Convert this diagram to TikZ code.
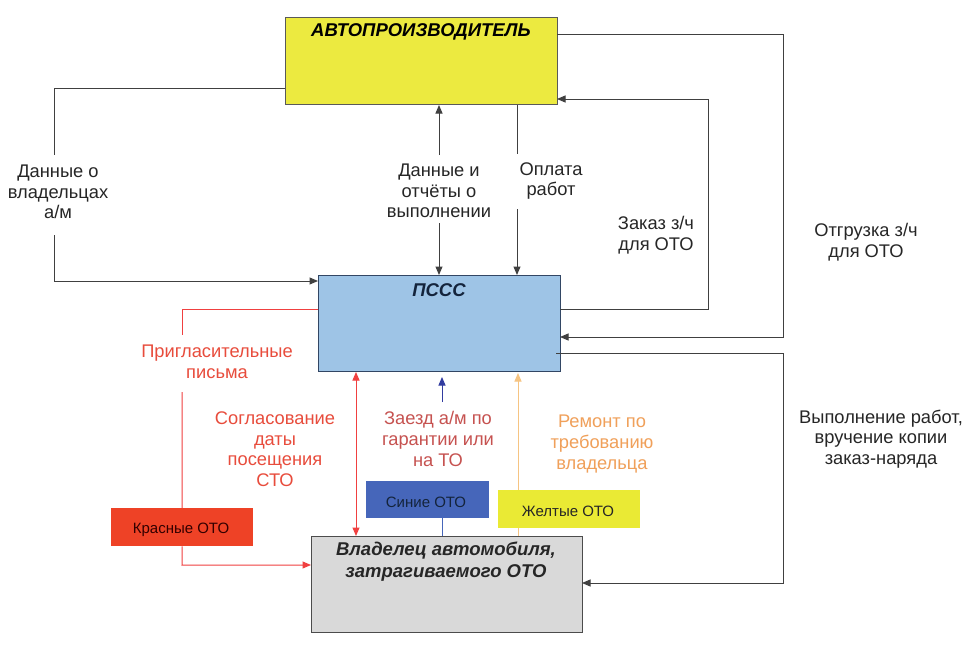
\documentclass[tikz,border=0pt]{standalone}
\usepackage{fontspec}
\setmainfont{Liberation Sans}
\usetikzlibrary{arrows.meta}
\definecolor{ylw}{RGB}{236,234,64}
\definecolor{blu}{RGB}{158,196,230}
\definecolor{gry}{RGB}{217,217,217}
\definecolor{redbox}{RGB}{238,66,38}
\definecolor{bluebox}{RGB}{70,102,186}
\definecolor{ylwbox}{RGB}{234,234,52}
\definecolor{ln}{RGB}{64,64,64}
\definecolor{redln}{RGB}{240,64,64}
\definecolor{redtx}{RGB}{232,76,60}
\definecolor{mutedred}{RGB}{198,82,80}
\definecolor{orng}{RGB}{240,160,90}
\definecolor{orngln}{RGB}{246,196,130}
\definecolor{bluln}{RGB}{50,60,160}
\definecolor{navy}{RGB}{20,36,60}
\definecolor{psscborder}{RGB}{50,70,100}
\begin{document}
\begin{tikzpicture}[x=1pt,y=-1pt,
  box/.style={draw=#1, line width=1pt, anchor=north west, inner sep=0pt},
  sbox/.style={anchor=north west, inner sep=0pt},
  title/.style={font=\fontsize{18.5}{22}\selectfont\bfseries\itshape, align=center, inner sep=0pt},
  lbl/.style={font=\fontsize{18.3}{20.6}\selectfont, align=center, inner sep=0pt, text=#1},
  lbl/.default=black!85,
  small/.style={font=\fontsize{15}{17}\selectfont, inner sep=0pt, text=black!85},
  conn/.style={draw=ln, line width=1pt},
  tip/.style={-{Triangle[length=8.5pt,width=7pt]}},
  tipb/.style={{Triangle[length=8.5pt,width=7pt]}-{Triangle[length=8.5pt,width=7pt]}}
]
\useasboundingbox (0,0) rectangle (975,645);
\fill[white] (0,0) rectangle (975,645);

% orange connector (behind yellow box)
\coordinate (o1) at (518,536);
\coordinate (o2) at (518,373);
\draw[draw=orngln, line width=1pt, -{Triangle[length=8.5pt,width=7pt]}] (o1) -- (o2);

% main boxes
\node[box=black!65, fill=ylw, minimum width=272pt, minimum height=87pt] (auto) at (285,17) {};
\node[box=psscborder, fill=blu, minimum width=242pt, minimum height=96pt] (pssc) at (318,275) {};
\node[box=black!70, fill=gry, minimum width=271pt, minimum height=96pt] (owner) at (311,536) {};

\node[title] (tauto) at (421,32) {АВТОПРОИЗВОДИТЕЛЬ};
\node[title, text=navy] (tpssc) at (439,290) {ПССС};
\node[title, text=black!85] (towner) at (446,562) {Владелец автомобиля,\\затрагиваемого ОТО};

% small boxes
\node[sbox, fill=redbox, minimum width=142pt, minimum height=38pt] (red) at (111,508) {};
\node[sbox, fill=bluebox, minimum width=123pt, minimum height=37pt] (bluo) at (366,481) {};
\node[sbox, fill=ylwbox, minimum width=142pt, minimum height=38pt] (ylo) at (498,490) {};
\node[small, text=black!80!red] (tred) at (181,530) {Красные ОТО};
\node[small, text=navy] (tbluo) at (426,502) {Синие ОТО};
\node[small] (tylo) at (568,511) {Желтые ОТО};

% labels
\node[lbl] (L1) at (58,192) {Данные о\\владельцах\\а/м};
\node[lbl] (L2) at (439,191) {Данные и\\отчёты о\\выполнении};
\node[lbl] (L3) at (551,181) {Оплата\\работ};
\node[lbl] (L4) at (656,235) {Заказ з/ч\\для ОТО};
\node[lbl] (L5) at (866,242) {Отгрузка з/ч\\для ОТО};
\node[lbl] (L6) at (881,439) {Выполнение работ,\\вручение копии\\заказ-наряда};
\node[lbl=redtx] (L7) at (217,362) {Пригласительные\\письма};
\node[lbl=redtx] (L8) at (275,449) {Согласование\\даты\\посещения\\СТО};
\node[lbl=mutedred] (L9) at (438,439) {Заезд а/м по\\гарантии или\\на ТО};
\node[lbl=orng] (L10) at (602,444) {Ремонт по\\требованию\\владельца};

% C1: Данные о владельцах
\coordinate (c1s) at (285,88);
\coordinate (c1a) at (54,155);
\coordinate (c1b) at (54,235);
\coordinate (c1e) at (318,281);
\draw[conn] (c1s) -| (c1a);
\draw[conn, tip] (c1b) |- (c1e);

% C2: Данные и отчёты
\coordinate (c2a) at (439,155);
\coordinate (c2b) at (439,223);
\draw[conn, tip] (c2a) -- (c2a |- auto.south);
\draw[conn, tip] (c2b) -- (c2b |- pssc.north);

% C3: Оплата работ
\coordinate (c3a) at (517,154);
\coordinate (c3b) at (517,209);
\draw[conn] (c3a |- auto.south) -- (c3a);
\draw[conn, tip] (c3b) -- (c3b |- pssc.north);

% C4: Заказ з/ч
\coordinate (c4s) at (560,309);
\coordinate (c4c) at (708,99);
\coordinate (c4e) at (557,99);
\draw[conn, tip] (c4s) -| (c4c) -- (c4e);

% C5: Отгрузка з/ч
\coordinate (c5s) at (557,34);
\coordinate (c5c) at (783,337);
\coordinate (c5e) at (560,337);
\draw[conn, tip] (c5s) -| (c5c) -- (c5e);

% C6: Выполнение работ
\coordinate (c6s) at (556,353);
\coordinate (c6c) at (783,583);
\coordinate (c6e) at (582,583);
\draw[conn, tip] (c6s) -| (c6c) -- (c6e);

% C7: red invitations
\coordinate (c7s) at (318,309);
\coordinate (c7a) at (182,335);
\coordinate (c7b) at (182,392);
\coordinate (c7c) at (182,565);
\coordinate (c7e) at (311,565);
\draw[draw=redln, line width=1pt] (c7s) -| (c7a);
\draw[draw=redln, line width=1pt] (c7b) -- (red.north);
\draw[draw=redln, line width=1pt, -{Triangle[length=8.5pt,width=7pt]}] (red.south) -- (c7c) -- (c7e);

% C8: red double arrow
\coordinate (c8) at (356,0);
\draw[draw=redln, line width=1pt, tipb, redln] (c8 |- pssc.south) -- (c8 |- owner.north);

% C9: blue arrow
\coordinate (c9a) at (442,402);
\coordinate (c9b) at (442,377);
\draw[draw=bluln, line width=1pt, -{Triangle[length=8.5pt,width=7pt]}] (c9a) -- (c9b);
\draw[draw=bluebox, line width=1pt] (c9a |- bluo.south) -- (c9a |- owner.north);
\end{tikzpicture}
\end{document}
